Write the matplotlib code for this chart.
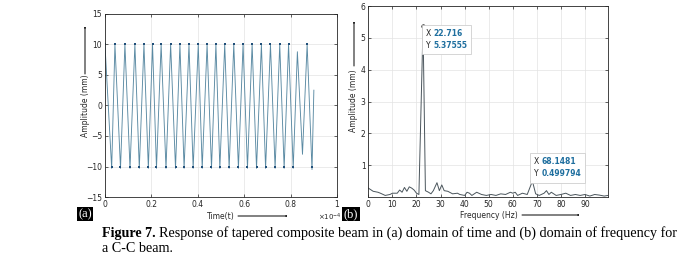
import numpy as np
import matplotlib.pyplot as plt
from matplotlib.patches import FancyArrowPatch
from matplotlib.offsetbox import TextArea, HPacker, VPacker, AnnotationBbox

# time response (time in units of 1e-4 s)
time_e4 = [0.000, 0.029, 0.043, 0.067, 0.086, 0.108, 0.129, 0.148, 0.168, 0.187,
           0.205, 0.222, 0.242, 0.263, 0.283, 0.304, 0.323, 0.341, 0.362, 0.380,
           0.402, 0.419, 0.440, 0.459, 0.478, 0.495, 0.516, 0.535, 0.555, 0.575,
           0.595, 0.614, 0.634, 0.653, 0.674, 0.692, 0.713, 0.733, 0.753, 0.772,
           0.791, 0.811, 0.829, 0.851, 0.871, 0.892, 0.900]
amp_mm = [10.0, -10.3, 10.0, -10.3, 10.0, -10.3, 10.0, -10.3, 10.0, -10.3,
          10.0, -10.3, 10.0, -10.3, 10.0, -10.3, 10.0, -10.3, 10.0, -10.3,
          10.0, -10.3, 10.0, -10.3, 10.0, -10.3, 10.0, -10.3, 10.0, -10.3,
          10.0, -10.3, 10.0, -10.3, 10.0, -10.3, 10.0, -10.3, 10.0, -10.3,
          10.0, -10.3, 8.8, -8.0, 10.0, -10.5, 2.5]

# frequency spectrum
freq_hz = [0, 2, 4, 5, 7, 9, 10, 12, 13, 14, 15, 16, 17, 18, 19, 20, 21,
           22.716, 23.7, 25, 26, 27, 28.5, 29.5, 30.5, 31.5, 33, 35, 37, 38, 40,
           41, 42, 43, 45, 47, 49, 51, 53, 55, 57, 59, 60, 61, 62, 64, 66,
           68.1481, 69.5, 71, 73, 74, 75, 76, 78, 80, 82, 84, 86, 88, 90, 92,
           94, 96, 98, 99.5]
spec_mm = [0.28, 0.18, 0.15, 0.12, 0.05, 0.08, 0.12, 0.12, 0.22, 0.15, 0.30,
           0.18, 0.32, 0.28, 0.22, 0.12, 0.08,
           5.37555, 0.20, 0.15, 0.10, 0.20, 0.45, 0.20, 0.38, 0.20, 0.18, 0.10,
           0.12, 0.08, 0.05, 0.15, 0.12, 0.05, 0.15, 0.08, 0.05, 0.08, 0.05,
           0.10, 0.08, 0.15, 0.12, 0.15, 0.05, 0.12, 0.08,
           0.499794, 0.10, 0.05, 0.12, 0.20, 0.08, 0.15, 0.05, 0.08, 0.12, 0.05,
           0.08, 0.05, 0.08, 0.03, 0.08, 0.06, 0.03, 0.05]

tips = [(22.716, 5.37555, "22.716", "5.37555"),
        (68.1481, 0.499794, "68.1481", "0.499794")]

axcol = "#262626"
tipblue = "#1f6f9f"
fs = 5.5

fig = plt.figure(figsize=(6.95, 2.62), dpi=100)
ax1 = fig.add_axes([0.151, 0.248, 0.334, 0.699])
ax2 = fig.add_axes([0.530, 0.248, 0.345, 0.729])

for ax in (ax1, ax2):
    ax.grid(True, color="#e3e3e3", lw=0.5)
    ax.set_axisbelow(True)
    ax.tick_params(direction="in", length=2, width=0.5, labelsize=fs,
                   colors=axcol, top=True, right=True, pad=2)
    for s in ax.spines.values():
        s.set_color(axcol)
        s.set_linewidth(0.6)

# (a) time domain
t = np.array(time_e4)
a = np.array(amp_mm)
ax1.plot(t, a, color="#5a8aa3", lw=0.65)
big = np.abs(a) >= 9.5
ax1.plot(t[big], np.clip(a[big], -10, 10), ls="none", marker="s", ms=1.9,
         color="#1f4e79", mew=0)
ax1.set_xlim(0, 1)
ax1.set_ylim(-15, 15)
ax1.set_xticks([0, 0.2, 0.4, 0.6, 0.8, 1])
ax1.set_xticklabels(["0", "0.2", "0.4", "0.6", "0.8", "1"])
ax1.set_yticks([-15, -10, -5, 0, 5, 10, 15])
fig.text(0.458, 0.17, r"$\times10^{-4}$", fontsize=fs - 0.5, color=axcol,
         ha="left", va="center")

# (b) frequency domain
ax2.plot(freq_hz, spec_mm, color="#4a555c", lw=0.7)
ax2.set_xlim(0, 99.6)
ax2.set_ylim(0, 6)
ax2.set_xticks(range(0, 100, 10))
ax2.set_yticks([1, 2, 3, 4, 5, 6])

for i, (fx, fy, sx, sy) in enumerate(tips):
    ax2.plot(fx, fy, "o", color="black", ms=2)
    rows = []
    for lab, val in (("X", sx), ("Y", sy)):
        rows.append(HPacker(children=[
            TextArea(lab, textprops=dict(fontsize=fs, color="#222222")),
            TextArea(val, textprops=dict(fontsize=fs, color=tipblue,
                                         fontweight="bold"))],
            pad=0, sep=2))
    box = VPacker(children=rows, pad=0, sep=2.5, align="left")
    if i == 0:
        off, align = (2, -2), (0, 1)
    else:
        off, align = (1, 2), (0, 0)
    ab = AnnotationBbox(box, (fx, fy), xybox=off, xycoords="data",
                        boxcoords="offset points", box_alignment=align,
                        frameon=True, pad=0.3,
                        bboxprops=dict(ec="#cfcfcf", fc="white", lw=0.6))
    ax2.add_artist(ab)

# axis labels with arrows
arrow = dict(arrowstyle="-|>,head_length=0.5,head_width=0.18", color="black",
             lw=0.7, shrinkA=0, shrinkB=0)


def fig_arrow(p0, p1):
    fig.add_artist(FancyArrowPatch((p0[0] / 695, 1 - p0[1] / 262),
                                   (p1[0] / 695, 1 - p1[1] / 262),
                                   transform=fig.transFigure, **arrow))


fig.text(85 / 695, 1 - 106 / 262, "Amplitude (mm)", rotation=90, fontsize=fs,
         color=axcol, ha="center", va="center")
fig_arrow((85, 74), (85, 26))
fig.text(354 / 695, 1 - 101 / 262, "Amplitude (mm)", rotation=90, fontsize=fs,
         color=axcol, ha="center", va="center")
fig_arrow((354, 66), (354, 21))

fig.text(221 / 695, 1 - 216 / 262, "Time(t)", fontsize=fs, color=axcol,
         ha="center", va="center")
fig_arrow((238, 216), (288, 216))
fig.text(489 / 695, 1 - 215 / 262, "Frequency (Hz)", fontsize=fs, color=axcol,
         ha="center", va="center")
fig_arrow((522, 215), (580, 215))

# panel tags
for x, lab in ((85, "(a)"), (351, "(b)")):
    fig.text(x / 695, 1 - 214 / 262, lab, fontsize=9, color="white",
             family="Liberation Serif", ha="center", va="center",
             bbox=dict(fc="black", ec="none", pad=1.0))

# caption
cfs = 10.2
head = fig.text(102 / 695, 1 - 233 / 262, "Figure 7.", fontsize=cfs,
                family="Liberation Serif", fontweight="bold", va="center")
r = fig.canvas.get_renderer()
x_end = head.get_window_extent(r).x1
fig.text(x_end / fig.bbox.width + 3 / 695, 1 - 233 / 262,
         "Response of tapered composite beam in (a) domain of time and (b) "
         "domain of frequency for", fontsize=cfs, family="Liberation Serif",
         va="center")
fig.text(102 / 695, 1 - 249 / 262, "a C-C beam.", fontsize=cfs,
         family="Liberation Serif", va="center")

fig.savefig("out.png", dpi=100)
